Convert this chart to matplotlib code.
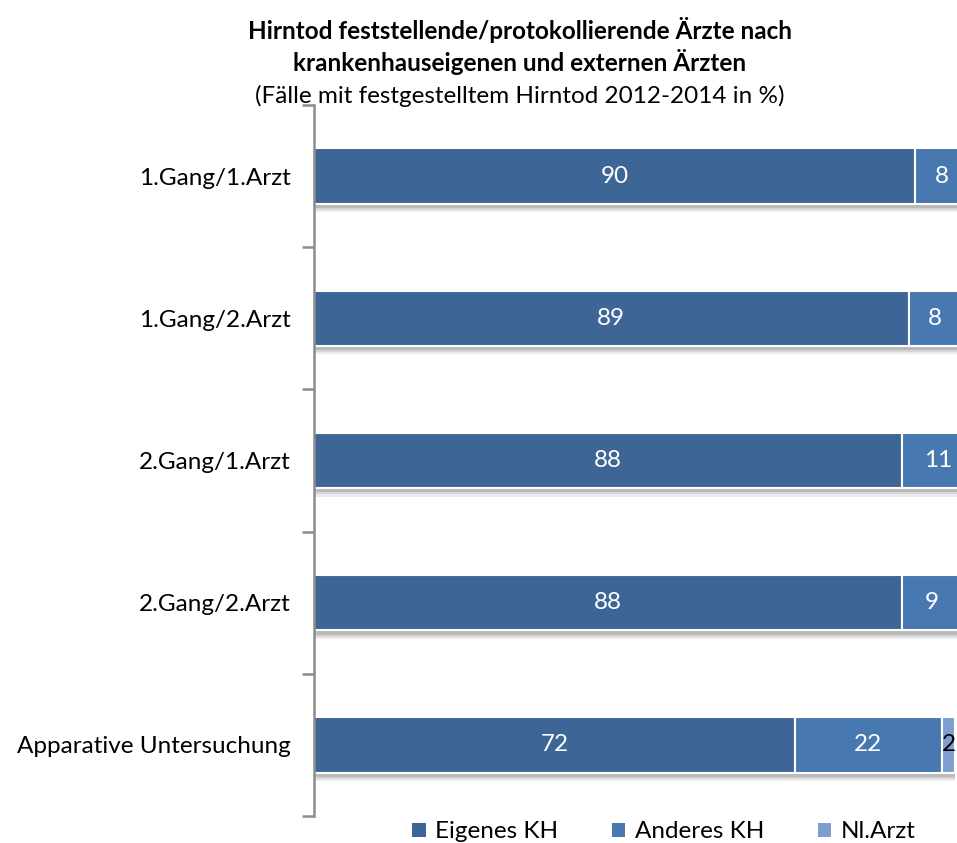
import matplotlib
matplotlib.use("Agg")
import matplotlib.pyplot as plt
import matplotlib.patheffects as pe
from matplotlib.patches import Patch
import numpy as np

plt.rcParams['font.family'] = ['Lato', 'DejaVu Sans']

categories = ["1.Gang/1.Arzt", "1.Gang/2.Arzt", "2.Gang/1.Arzt", "2.Gang/2.Arzt", "Apparative Untersuchung"]
eigenes_kh = [90, 89, 88, 88, 72]
anderes_kh = [8, 8, 11, 9, 22]
nl_arzt = [1, 1, 1, 1, 2]
series_names = ["Eigenes KH", "Anderes KH", "Nl.Arzt"]

colors = ["#3D6697", "#4878B0", "#7D9ECF"]
label_colors = ["white", "white", "black"]
FS = 17.5

W, H = 957, 843
fig = plt.figure(figsize=(W / 100, H / 100), dpi=100)
ax = fig.add_axes([314 / W, 1 - 816 / H, 668 / W, (816 - 105) / H])

y = np.arange(len(categories))
left = np.zeros(len(categories))
shadow = [pe.SimplePatchShadow(offset=(0, -6), shadow_rgbFace='#999999', alpha=0.18),
          pe.SimplePatchShadow(offset=(0, -4.5), shadow_rgbFace='#888888', alpha=0.22),
          pe.SimplePatchShadow(offset=(0, -3), shadow_rgbFace='#777777', alpha=0.3),
          pe.Normal()]
for vals, col, lc, name in zip([eigenes_kh, anderes_kh, nl_arzt], colors, label_colors, series_names):
    vals = np.array(vals, dtype=float)
    bars = ax.barh(y, vals, left=left, height=0.39, color=col, edgecolor='white',
                   linewidth=1.5, label=name, zorder=2)
    for b in bars:
        b.set_path_effects(shadow)
    ax.bar_label(bars, labels=[f"{int(v)}" for v in vals], label_type='center',
                 color=lc, fontsize=FS, zorder=3)
    left += vals

ax.set_xlim(0, 100)
ax.set_ylim(len(categories) - 0.5, -0.5)
for s in ['top', 'right', 'bottom']:
    ax.spines[s].set_visible(False)
ax.spines['left'].set_color('#8C8C8C')
ax.spines['left'].set_linewidth(1.8)
ax.set_xticks([])
ax.set_yticks(y)
ax.set_yticklabels(categories, fontsize=FS)
ax.tick_params(axis='y', which='major', length=0, pad=17)
ax.set_yticks(np.arange(-0.5, len(categories), 1.0), minor=True)
ax.tick_params(axis='y', which='minor', length=9, width=1.8, color='#8C8C8C')

fig.text(520 / W, 1 - 30 / H, "Hirntod feststellende/protokollierende Ärzte nach",
         ha='center', va='center', fontsize=FS, fontweight='bold')
fig.text(520 / W, 1 - 62 / H, "krankenhauseigenen und externen Ärzten",
         ha='center', va='center', fontsize=FS, fontweight='bold')
fig.text(520 / W, 1 - 96 / H, "(Fälle mit festgestelltem Hirntod 2012-2014 in %)",
         ha='center', va='center', fontsize=FS)

handles = [Patch(facecolor=c, edgecolor='none') for c in colors]
fig.legend(handles, series_names, loc='center', bbox_to_anchor=(664 / W, 1 - 832 / H),
           ncol=3, frameon=False, fontsize=FS, handlelength=0.55, handleheight=0.55,
           handletextpad=0.4, columnspacing=2.2)

fig.savefig("out.png", dpi=100)
